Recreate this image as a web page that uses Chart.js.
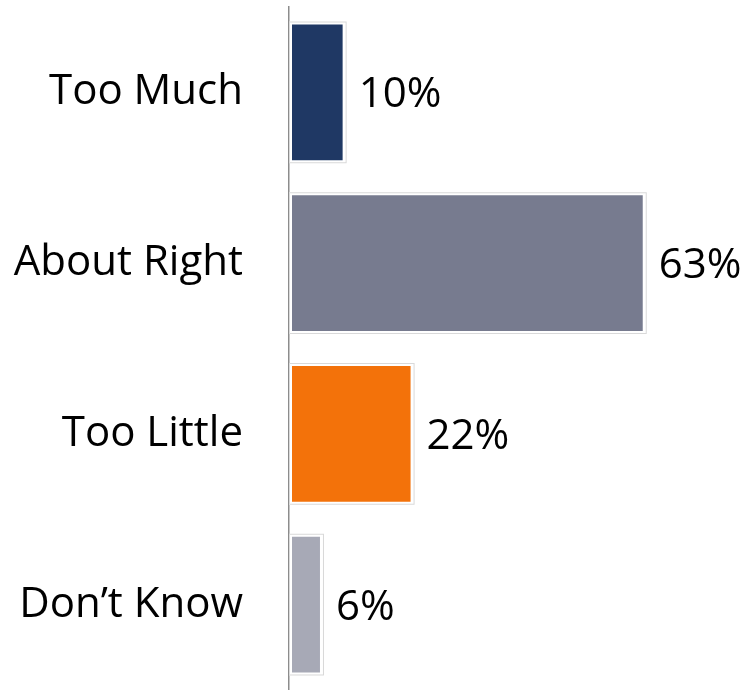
<!DOCTYPE html>
<html>
<head>
<meta charset="utf-8">
<script src="https://cdn.jsdelivr.net/npm/chart.js@4/dist/chart.umd.min.js"></script>
<style>
  html, body { margin: 0; padding: 0; background: #fff; }
  #wrap { width: 742px; height: 690px; }
</style>
</head>
<body>
<div id="wrap"><canvas id="opinionChart"></canvas></div>
<script>
const categories = ['Too Much', 'About Right', 'Too Little', 'Don\u2019t Know'];
const shares = [10, 63, 22, 6];
const barColors = ['#1f3864', '#777b8f', '#f3720a', '#a7a9b6'];

// thin grey frame around every bar, plus the percentage to its right
const barDecor = {
    id: 'barDecor',
    afterDatasetsDraw(chart) {
        const ctx = chart.ctx;
        const meta = chart.getDatasetMeta(0);
        ctx.save();
        meta.data.forEach((bar, i) => {
            const p = bar.getProps(['x', 'y', 'base', 'height'], true);
            const top = p.y - p.height / 2;
            ctx.strokeStyle = '#d9d9d9';
            ctx.lineWidth = 1;
            ctx.strokeRect(p.base + 0.5, top + 0.5, p.x - p.base, p.height - 1);

            ctx.fillStyle = '#000';
            ctx.font = '42px "Open Sans"';
            ctx.textAlign = 'left';
            ctx.textBaseline = 'middle';
            ctx.fillText(shares[i] + '%', p.x + 13, p.y + 3);
        });
        ctx.restore();
    }
};

new Chart(document.getElementById('opinionChart'), {
    type: 'bar',
    data: {
        labels: categories,
        datasets: [{
            data: shares,
            backgroundColor: barColors,
            borderColor: '#ffffff',
            borderWidth: 3,
            borderSkipped: false,
            categoryPercentage: 0.83,
            barPercentage: 1
        }]
    },
    options: {
        indexAxis: 'y',
        responsive: true,
        maintainAspectRatio: false,
        animation: false,
        layout: { padding: { top: 7, right: 0, bottom: 0, left: 0 } },
        plugins: { legend: { display: false }, tooltip: { enabled: false } },
        scales: {
            x: {
                display: false,
                min: 0,
                max: 80
            },
            y: {
                // fixed axis width; label padding should not shrink the plot vertically
                afterFit: s => {
                    s.width = 289;
                    s.paddingTop = 0;
                    s.paddingBottom = 0;
                },
                grid: { display: false, drawTicks: false },
                border: { display: true, color: '#8c8c8c', width: 1.5 },
                ticks: {
                    padding: 46,
                    color: '#000',
                    font: { family: 'Open Sans', size: 42 }
                }
            }
        }
    },
    plugins: [barDecor]
});
</script>
</body>
</html>
